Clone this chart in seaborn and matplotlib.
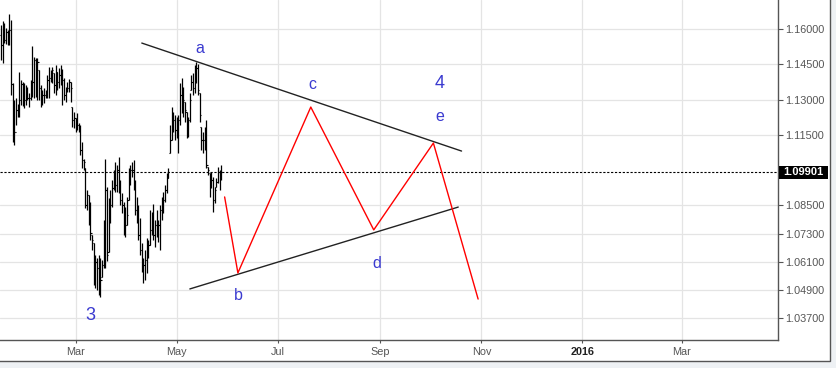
import numpy as np
import pandas as pd
import matplotlib
matplotlib.use('Agg')
import matplotlib.pyplot as plt
import matplotlib.dates as mdates
import matplotlib.transforms as mtransforms
from matplotlib.patches import Rectangle
import seaborn as sns

sns.set_style('white')
plt.rcParams['font.family'] = ['Liberation Sans', 'DejaVu Sans']

# ---------------- data ----------------
bar_start = '2015-01-15'
opens = [1.1574,1.1532,1.1596,1.1553,1.1587,1.1545,1.1596,1.1366,1.1158,1.1162,
         1.1256,1.1234,1.1298,1.1366,1.1319,1.1298,1.1319,1.1307,1.1307,1.1362,
         1.1375,1.1468,1.1341,1.1426,1.1349,1.1298,1.1319,1.1319,1.1328,1.1383,
         1.1392,1.1404,1.1413,1.1362,1.1417,1.1375,1.1404,1.1417,1.1383,1.1319,
         1.1341,1.1349,1.1375,1.1268,1.1213,1.1222,1.1204,1.1192,1.1179,1.1085,
         1.1043,1.1009,1.0852,1.0894,1.0852,1.0724,1.0690,1.0533,1.0610,1.0584,
         1.0482,1.0546,1.0597,1.0767,1.0916,1.0652,1.0809,1.0852,1.0924,1.0979,
         1.0937,1.1000,1.0937,1.0873,1.0852,1.0809,1.0767,1.0873,1.0979,1.1000,
         1.1000,1.0937,1.0831,1.0797,1.0724,1.0661,1.0584,1.0597,1.0618,1.0639,
         1.0682,1.0746,1.0788,1.0724,1.0767,1.0746,1.0767,1.0831,1.0852,1.0873,
         1.0916,1.0967,1.1073,1.1128,1.1192,1.1213,1.1171,1.1179,1.1213,1.1319,
         1.1277,1.1290,1.1247,1.1192,1.1213,1.1341,1.1375,1.1349,1.1426,1.1434,
         1.1328,1.1183,1.1128,1.1128,1.1149,1.1013,1.0988,1.0937,1.0958,1.0873,
         1.0928,1.0950,1.0992,1.0967]
highs = [1.1617,1.1634,1.1625,1.1604,1.1596,1.1664,1.1638,1.1370,1.1298,1.1307,
         1.1281,1.1417,1.1383,1.1375,1.1370,1.1362,1.1353,1.1328,1.1383,1.1528,
         1.1481,1.1477,1.1477,1.1426,1.1362,1.1341,1.1349,1.1341,1.1404,1.1438,
         1.1426,1.1438,1.1413,1.1447,1.1417,1.1434,1.1447,1.1430,1.1392,1.1353,
         1.1375,1.1387,1.1375,1.1268,1.1247,1.1222,1.1243,1.1200,1.1192,1.1120,
         1.1047,1.1009,1.0916,1.0894,1.0865,1.0724,1.0690,1.0639,1.0627,1.0639,
         1.0627,1.0618,1.0788,1.1047,1.0928,1.0882,1.0916,1.0958,1.1000,1.1035,
         1.1022,1.1056,1.0958,1.0903,1.0865,1.0843,1.0886,1.1009,1.1022,1.1035,
         1.1043,1.0958,1.0886,1.0852,1.0797,1.0690,1.0627,1.0661,1.0712,1.0703,
         1.0831,1.0822,1.0856,1.0788,1.0831,1.0788,1.0852,1.0886,1.0907,1.0937,
         1.0988,1.1009,1.1192,1.1268,1.1247,1.1234,1.1226,1.1234,1.1370,1.1392,
         1.1353,1.1290,1.1247,1.1226,1.1328,1.1404,1.1413,1.1447,1.1460,1.1451,
         1.1328,1.1183,1.1162,1.1183,1.1213,1.1013,1.0988,1.0992,1.0971,1.0928,
         1.0967,1.1013,1.1000,1.1022]
lows = [1.1468,1.1455,1.1540,1.1536,1.1532,1.1532,1.1319,1.1120,1.1107,1.1192,
        1.1226,1.1226,1.1277,1.1273,1.1264,1.1277,1.1298,1.1268,1.1298,1.1311,
        1.1307,1.1311,1.1298,1.1298,1.1268,1.1277,1.1285,1.1307,1.1307,1.1307,
        1.1375,1.1370,1.1328,1.1319,1.1341,1.1349,1.1362,1.1277,1.1298,1.1290,
        1.1332,1.1332,1.1290,1.1183,1.1179,1.1162,1.1171,1.1162,1.1064,1.1009,
        1.1000,1.0839,1.0831,1.0767,1.0703,1.0661,1.0512,1.0499,1.0491,1.0469,
        1.0461,1.0546,1.0584,1.0584,1.0614,1.0652,1.0775,1.0843,1.0916,1.0907,
        1.0907,1.0903,1.0852,1.0818,1.0724,1.0716,1.0767,1.0873,1.0937,1.0971,
        1.0916,1.0809,1.0775,1.0703,1.0639,1.0567,1.0520,1.0533,1.0563,1.0627,
        1.0682,1.0724,1.0703,1.0673,1.0716,1.0695,1.0661,1.0788,1.0818,1.0865,
        1.0903,1.0967,1.1073,1.1128,1.1162,1.1128,1.1137,1.1073,1.1192,1.1243,
        1.1226,1.1204,1.1137,1.1141,1.1204,1.1341,1.1319,1.1328,1.1370,1.1319,
        1.1204,1.1085,1.1073,1.1085,1.1009,1.0979,1.0886,1.0924,1.0822,1.0860,
        1.0928,1.0945,1.0916,1.0958]
closes = [1.1532,1.1596,1.1553,1.1587,1.1545,1.1596,1.1366,1.1158,1.1162,1.1256,
          1.1234,1.1298,1.1366,1.1319,1.1298,1.1319,1.1307,1.1307,1.1362,1.1375,
          1.1468,1.1341,1.1460,1.1349,1.1298,1.1319,1.1319,1.1328,1.1383,1.1392,
          1.1404,1.1426,1.1362,1.1417,1.1375,1.1404,1.1417,1.1383,1.1319,1.1341,
          1.1349,1.1375,1.1349,1.1213,1.1222,1.1204,1.1192,1.1179,1.1085,1.1043,
          1.1035,1.0852,1.0894,1.0852,1.0733,1.0703,1.0533,1.0610,1.0584,1.0482,
          1.0533,1.0597,1.0767,1.0916,1.0639,1.0809,1.0852,1.0924,1.0979,1.0937,
          1.1000,1.0937,1.0873,1.0852,1.0809,1.0767,1.0809,1.0979,1.1000,1.1000,
          1.0937,1.0831,1.0797,1.0724,1.0661,1.0584,1.0597,1.0618,1.0639,1.0682,
          1.0746,1.0788,1.0724,1.0767,1.0746,1.0767,1.0831,1.0852,1.0873,1.0916,
          1.0967,1.0992,1.1128,1.1192,1.1213,1.1171,1.1179,1.1213,1.1319,1.1277,
          1.1298,1.1256,1.1192,1.1213,1.1298,1.1375,1.1349,1.1426,1.1434,1.1341,
          1.1234,1.1128,1.1128,1.1149,1.1022,1.1000,1.0937,1.0958,1.0873,1.0916,
          1.0950,1.0992,1.0967,1.0990]

last_price = 1.09901
price_ticks = [1.160, 1.145, 1.130, 1.115, 1.085, 1.073, 1.061, 1.049, 1.037]
month_ticks = ['2015-03-01', '2015-05-01', '2015-07-01', '2015-09-01',
               '2015-11-01', '2016-01-01', '2016-03-01']
month_labels = ['Mar', 'May', 'Jul', 'Sep', 'Nov', '2016', 'Mar']

upper_line_dates = ['2015-04-10', '2015-10-20']
upper_line_prices = [1.1540, 1.1081]
lower_line_dates = ['2015-05-09', '2015-10-18']
lower_line_prices = [1.0495, 1.0843]
proj_dates = ['2015-05-30', '2015-06-07', '2015-07-21', '2015-08-28', '2015-10-03', '2015-10-30']
proj_prices = [1.0886, 1.0563, 1.1268, 1.0746, 1.1115, 1.0452]

wave_labels = ['a', 'b', 'c', 'd', 'e', '4', '3']
wave_label_dates = ['2015-05-15', '2015-06-07', '2015-07-22', '2015-08-30',
                    '2015-10-07', '2015-10-07', '2015-03-10']
wave_label_prices = [1.1519, 1.0469, 1.1362, 1.0605, 1.1230, 1.1370, 1.0384]

# ---------------- figure ----------------
W, H = 837, 368
fig = plt.figure(figsize=(W / 100, H / 100), dpi=100, facecolor='#eef1f4')
panel = Rectangle((-0.01, 7 / H), 830 / W + 0.01, 361 / H + 0.01,
                  transform=fig.transFigure, facecolor='white',
                  edgecolor='#555555', lw=1, zorder=-10)
fig.add_artist(panel)
ax = fig.add_axes([0, 28 / H, 778 / W, 340 / H])
ax.set_zorder(1)
ax.set_facecolor('white')

dates = pd.date_range(bar_start, periods=len(opens), freq='D')
xb = mdates.date2num(dates)
o = np.array(opens); h = np.array(highs); l = np.array(lows); c = np.array(closes)

ax.vlines(xb, l, h, color='black', lw=0.9, zorder=3)
ax.hlines(o, xb - 0.7, xb, color='black', lw=0.8, zorder=3)
ax.hlines(c, xb, xb + 0.7, color='black', lw=0.8, zorder=3)

def dn(lst):
    return mdates.date2num(pd.to_datetime(lst))

sns.lineplot(x=dn(upper_line_dates), y=upper_line_prices, sort=False, estimator=None,
             color='#222222', lw=1.0, ax=ax, zorder=4)
sns.lineplot(x=dn(lower_line_dates), y=lower_line_prices, sort=False, estimator=None,
             color='#222222', lw=1.0, ax=ax, zorder=4)
sns.lineplot(x=dn(proj_dates), y=proj_prices, sort=False, estimator=None,
             color='#ff0000', lw=1.0, ax=ax, zorder=5)

for lab, d, p in zip(wave_labels, dn(wave_label_dates), wave_label_prices):
    fs = 13 if lab.isdigit() else 11.5
    ax.text(d, p, lab, color='#3a3ad0', fontsize=fs, ha='center', va='center', zorder=6)

ax.axhline(last_price, color='black', lw=0.8, ls=(0, (2, 1.5)), zorder=4)

ax.set_xlim(mdates.date2num(pd.Timestamp('2015-01-14 10:00')),
            mdates.date2num(pd.Timestamp('2016-04-28')))
ax.set_ylim(1.0278, 1.1723)

ax.yaxis.tick_right()
ax.set_yticks(price_ticks)
ax.set_yticklabels([f'{v:.5f}' for v in price_ticks])
ax.set_xticks(dn(month_ticks))
ax.set_xticklabels(month_labels)
ax.tick_params(axis='y', labelsize=7.8, labelcolor='#555555', color='#555555',
               length=3.5, width=0.8, pad=2, right=True, left=False)
ax.tick_params(axis='x', labelsize=7.8, labelcolor='#555555', color='#555555',
               length=2.5, width=0.8, pad=2.5, bottom=True)
for t in ax.get_xticklabels():
    if t.get_text() == '2016':
        t.set_fontweight('bold')
        t.set_color('#222222')

ax.grid(True, color='#e4e4e4', lw=0.9)
ax.set_axisbelow(True)
ax.set_xlabel('')
ax.set_ylabel('')
for s in ['top', 'left']:
    ax.spines[s].set_visible(False)
for s in ['right', 'bottom']:
    ax.spines[s].set_color('#555555')
    ax.spines[s].set_linewidth(1.0)

# last price tag
tr = mtransforms.blended_transform_factory(ax.transAxes, ax.transData)
bh = 13 * (1.1723 - 1.0278) / 340
ax.add_patch(Rectangle((1.0015, last_price - bh / 2), 49 / 778, bh, transform=tr,
                       facecolor='black', edgecolor='none', clip_on=False, zorder=7))
ax.text(1.0015 + 24.5 / 778, last_price, f'{last_price:.5f}', transform=tr,
        color='white', fontsize=8, fontweight='bold', ha='center', va='center',
        clip_on=False, zorder=8)

fig.savefig('out.png', dpi=100, facecolor=fig.get_facecolor())
